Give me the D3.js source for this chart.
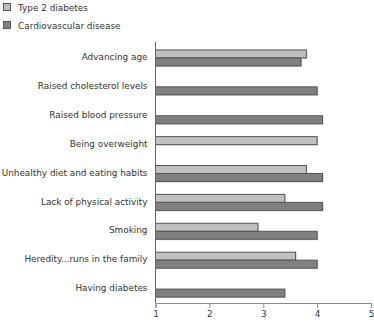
<!DOCTYPE html>
<html>
<head>
<meta charset="utf-8">
<script src="https://cdn.jsdelivr.net/npm/d3@7"></script>
<style>
  body { margin: 0; background: #fff; }
  svg { display: block; }
  text { font-family: "DejaVu Sans", Verdana, sans-serif; font-size: 8.9px; fill: #333; }
</style>
</head>
<body>
<div id="chart"></div>
<script>
// Risk factors, top to bottom
const categories = [
  'Advancing age',
  'Raised cholesterol levels',
  'Raised blood pressure',
  'Being overweight',
  'Unhealthy diet and eating habits',
  'Lack of physical activity',
  'Smoking',
  'Heredity...runs in the family',
  'Having diabetes'
];
const seriesNames = ['Type 2 diabetes', 'Cardiovascular disease'];
// null = no bar for that factor
const diabetesValues = [3.8, null, null, 4.0, 3.8, 3.4, 2.9, 3.6, null];
const cardioValues = [3.7, 4.0, 4.1, null, 4.1, 4.1, 4.0, 4.0, 3.4];
const xTicks = [1, 2, 3, 4, 5];

const colors = ['#c0c0c0', '#808080'];

const width = 374, height = 322;
const margin = { top: 43, right: 3, bottom: 19, left: 155.5 };
const innerW = width - margin.left - margin.right;
const innerH = height - margin.top - margin.bottom;

const svg = d3.select('#chart').append('svg')
  .attr('width', width)
  .attr('height', height);

// legend
const legend = svg.append('g').attr('transform', 'translate(3,3)');
seriesNames.forEach((name, i) => {
  const g = legend.append('g').attr('transform', `translate(0, ${i * 18})`);
  g.append('rect')
    .attr('x', 0.5).attr('y', 0.5)
    .attr('width', 7).attr('height', 7)
    .attr('fill', colors[i])
    .attr('stroke', '#555');
  g.append('text')
    .attr('x', 15)
    .attr('y', 8)
    .text(name);
});

const plot = svg.append('g')
  .attr('transform', `translate(${margin.left},${margin.top})`);

const x = d3.scaleLinear().domain([1, 5]).range([0, innerW]);
const y = d3.scaleBand().domain(categories).range([0, innerH]);
const barH = 8;

const rows = categories.map((c, i) => ({ cat: c, vals: [diabetesValues[i], cardioValues[i]] }));

const barData = [];
rows.forEach(r => r.vals.forEach((v, s) => {
  if (v != null) barData.push({ cat: r.cat, value: v, s });
}));

const barY = d => y(d.cat) + y.bandwidth() / 2 - barH + d.s * barH + 0.5;

// soft shadow behind each bar
plot.selectAll('.shadow')
  .data(barData)
  .join('rect')
  .attr('class', 'shadow')
  .attr('x', 1)
  .attr('y', d => barY(d) + 1)
  .attr('width', d => x(d.value))
  .attr('height', barH)
  .attr('fill', '#d0d0d0');

plot.selectAll('.bar')
  .data(barData)
  .join('rect')
  .attr('class', 'bar')
  .attr('x', 0)
  .attr('y', barY)
  .attr('width', d => x(d.value))
  .attr('height', barH)
  .attr('fill', d => colors[d.s])
  .attr('stroke', '#555')
  .attr('stroke-width', 1);

// category labels
plot.selectAll('.cat-label')
  .data(categories)
  .join('text')
  .attr('class', 'cat-label')
  .attr('x', -8)
  .attr('y', d => y(d) + y.bandwidth() / 2)
  .attr('text-anchor', 'end')
  .attr('dy', '0.3em')
  .text(d => d);

// left axis line
plot.append('line')
  .attr('x1', 0).attr('x2', 0)
  .attr('y1', -1).attr('y2', innerH)
  .attr('stroke', '#666');

const xAxis = plot.append('g')
  .attr('transform', `translate(0,${innerH})`)
  .call(d3.axisBottom(x).tickValues(xTicks).tickFormat(d3.format('d')).tickSizeOuter(0).tickSize(5));
xAxis.select('.domain').attr('stroke', '#888');
xAxis.selectAll('.tick line').attr('stroke', '#888');
xAxis.selectAll('.tick text')
  .attr('y', 8)
  .style('font-family', '"DejaVu Sans", Verdana, sans-serif')
  .style('font-size', '8.9px')
  .attr('fill', '#333');
</script>
</body>
</html>
